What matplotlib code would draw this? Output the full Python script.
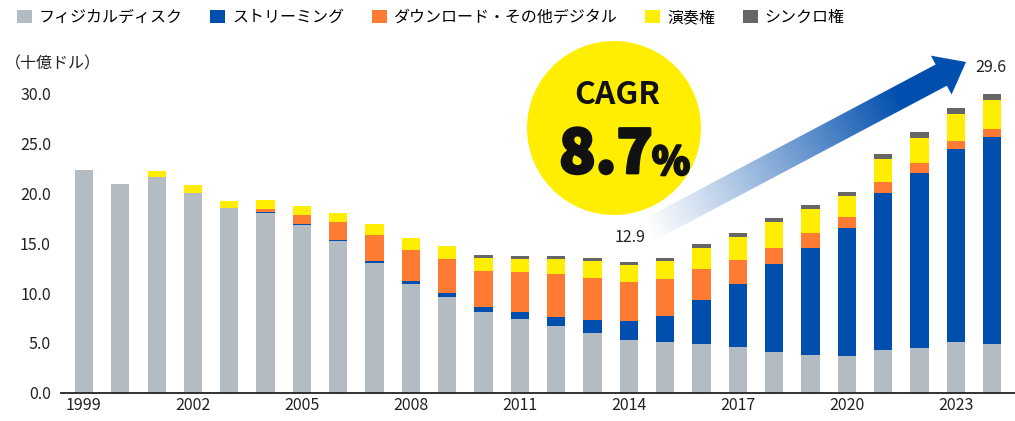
import numpy as np
import matplotlib
matplotlib.use("Agg")
import matplotlib.pyplot as plt
from matplotlib.patches import Patch, Circle, Polygon
import matplotlib.patheffects as pe

plt.rcParams['font.family'] = ['Noto Sans CJK JP', 'DejaVu Sans']

years = list(range(1999, 2025))
physical = [22.3, 20.9, 21.6, 20.0, 18.5, 18.0, 16.85, 15.2, 13.0, 10.9, 9.6, 8.1, 7.4,
            6.7, 6.0, 5.3, 5.1, 4.9, 4.6, 4.1, 3.8, 3.7, 4.3, 4.5, 5.1, 4.9]
streaming = [0, 0, 0, 0, 0, 0.1, 0.1, 0.1, 0.2, 0.3, 0.4, 0.5, 0.7,
             0.9, 1.3, 1.9, 2.6, 4.4, 6.3, 8.8, 10.7, 12.8, 15.7, 17.5, 19.3, 20.7]
download = [0, 0, 0, 0, 0, 0.3, 0.85, 1.8, 2.6, 3.1, 3.4, 3.6, 4.0,
            4.3, 4.2, 3.9, 3.7, 3.1, 2.4, 1.6, 1.5, 1.1, 1.1, 1.0, 0.8, 0.8]
performance = [0, 0, 0.6, 0.8, 0.7, 0.9, 0.9, 0.9, 1.1, 1.2, 1.3, 1.3, 1.3,
               1.5, 1.7, 1.7, 1.8, 2.1, 2.3, 2.6, 2.4, 2.1, 2.3, 2.5, 2.8, 3.0]
sync = [0, 0, 0, 0, 0, 0, 0, 0, 0, 0, 0, 0.3, 0.3,
        0.3, 0.3, 0.3, 0.3, 0.4, 0.4, 0.4, 0.4, 0.4, 0.5, 0.6, 0.6, 0.6]

labels = ['フィジカルディスク', 'ストリーミング', 'ダウンロード・その他デジタル', '演奏権', 'シンクロ権']
colors = ['#b4bcc3', '#004ead', '#ff7a33', '#ffee00', '#666666']
series = [physical, streaming, download, performance, sync]

fig = plt.figure(figsize=(10.15, 4.21), dpi=100)
ax = fig.add_axes([0.0598, 0.0672, 0.9402, 0.7815])

x = np.arange(len(years))
bottom = np.zeros(len(years))
for vals, c in zip(series, colors):
    ax.bar(x, vals, bottom=bottom, width=0.5, color=c, linewidth=0)
    bottom += np.array(vals)

ax.set_xlim(-0.64, 25.63)
ax.set_ylim(0, 33)
ax.set_yticks(np.arange(0, 31, 5))
ax.set_yticklabels([f'{v:.1f}' for v in np.arange(0, 31, 5)])
ax.set_xticks(x[::3])
ax.set_xticklabels([str(y) for y in years[::3]])
ax.tick_params(axis='both', length=0, labelsize=11.5, colors='#222222')
ax.tick_params(axis='y', pad=7)
ax.tick_params(axis='x', pad=3)
for s in ['top', 'right', 'left']:
    ax.spines[s].set_visible(False)
ax.spines['bottom'].set_linewidth(1.3)
ax.spines['bottom'].set_color('#222222')

handles = [Patch(facecolor=c, edgecolor='none') for c in colors]
fig.legend(handles, labels, loc='center left', bbox_to_anchor=(0.0167, 0.958), ncol=5,
           frameon=False, fontsize=11.5, handlelength=0.93, handleheight=0.93,
           handletextpad=0.42, columnspacing=1.75, borderpad=0, borderaxespad=0)

fig.text(0.005, 1 - 64 / 421, '（十億ドル）', fontsize=11.5, va='center', ha='left', color='#222222')

# overlay in pixel coordinates for the annotation
ov = fig.add_axes([0, 0, 1, 1])
ov.set_xlim(0, 1015)
ov.set_ylim(421, 0)
ov.axis('off')
ov.patch.set_alpha(0)

ov.add_patch(Circle((614, 128), 87, facecolor='#ffee00', edgecolor='none'))
heavy = [pe.withStroke(linewidth=2.0, foreground='#111111')]
ov.text(617, 95, 'CAGR', fontsize=23, fontweight='bold', ha='center', va='center', color='#111111')
ov.text(606, 155, '8.7', fontsize=43, fontweight='heavy', ha='center', va='center',
        color='#111111', path_effects=heavy)
ov.text(671, 163, '%', fontsize=28, fontweight='heavy', ha='center', va='center',
        color='#111111', path_effects=[pe.withStroke(linewidth=1.5, foreground='#111111')])

# gradient arrow
tail = np.array([630.0, 240.0])
tip = np.array([966.0, 62.0])
d = tip - tail
L = np.hypot(*d)
u = d / L
n = np.array([-u[1], u[0]])
head_len, head_w, shaft_w = 28, 22, 12
base = tip - head_len * u
pts = [tail + shaft_w * n, base + shaft_w * n, base + head_w * n, tip,
       base - head_w * n, base - shaft_w * n, tail - shaft_w * n]
poly = Polygon(pts, closed=True, facecolor='none', edgecolor='none')
ov.add_patch(poly)
gx0, gx1, gy0, gy1 = 600, 1000, 30, 270
gx, gy = np.meshgrid(np.linspace(gx0, gx1, 400), np.linspace(gy0, gy1, 240))
t = ((gx - tail[0]) * u[0] + (gy - tail[1]) * u[1]) / L
t = np.clip(t, 0, 1)
rgba = np.zeros(gx.shape + (4,))
rgba[..., 0] = 0 / 255
rgba[..., 1] = 78 / 255
rgba[..., 2] = 173 / 255
rgba[..., 3] = np.clip((t - 0.05) / 0.75, 0, 1) ** 1.1
im = ov.imshow(rgba, extent=(gx0, gx1, gy1, gy0), origin='upper', interpolation='bilinear')
im.set_clip_path(poly)
ov.set_xlim(0, 1015)
ov.set_ylim(421, 0)

ov.text(630, 238, '12.9', fontsize=11.5, ha='center', va='center', color='#222222')
ov.text(991, 67, '29.6', fontsize=11.5, ha='center', va='center', color='#222222')

fig.savefig('out.png', dpi=100)
